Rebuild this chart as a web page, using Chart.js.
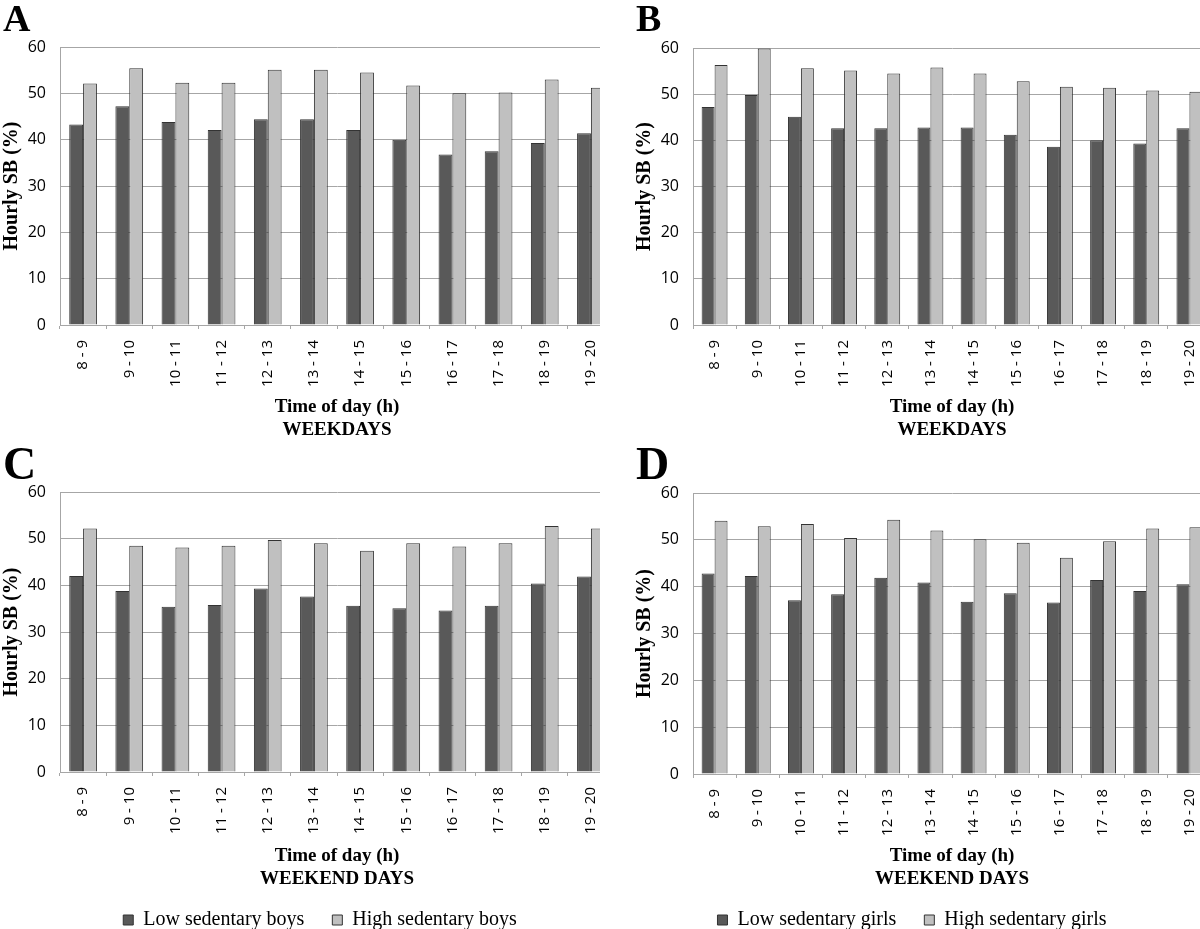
<!DOCTYPE html>
<html>
<head>
<meta charset="utf-8">
<script src="https://cdn.jsdelivr.net/npm/chart.js@4.4.1/dist/chart.umd.min.js"></script>
<style>
  body { margin:0; background:#fff; width:1200px; height:929px; overflow:hidden; position:relative; }
  .panel { position:absolute; overflow:hidden; width:600px; }
  .panel canvas { position:absolute; left:0; top:0; }
  .letter { position:absolute; font-family:"Liberation Serif", serif; font-weight:bold; line-height:1; color:#000; }
</style>
</head>
<body>
<div class="panel" style="left:0;top:0;height:440px"><canvas id="chartA" width="640" height="440"></canvas></div>
<div class="panel" style="left:600px;top:0;height:440px"><canvas id="chartB" width="640" height="440"></canvas></div>
<div class="panel" style="left:0;top:440px;height:489px"><canvas id="chartC" width="640" height="500"></canvas></div>
<div class="panel" style="left:600px;top:440px;height:489px"><canvas id="chartD" width="640" height="500"></canvas></div>
<div class="letter" style="left:3px;top:-1px;font-size:38px">A</div>
<div class="letter" style="left:636px;top:-1px;font-size:38px">B</div>
<div class="letter" style="left:3px;top:441px;font-size:46px">C</div>
<div class="letter" style="left:636px;top:441px;font-size:46px">D</div>
<script>
// categories and tick labels
var hours = ["8 - 9", "9 - 10", "10 - 11", "11 - 12", "12 - 13", "13 - 14",
  "14 - 15", "15 - 16", "16 - 17", "17 - 18", "18 - 19", "19 - 20"];
var yTicks = [0, 10, 20, 30, 40, 50, 60];

// hourly SB (%)
var lowBoysWeekdays   = [43.3, 47.2, 43.8, 42.1, 44.4, 44.4, 42.1, 40.0, 36.8, 37.5, 39.3, 41.4];
var highBoysWeekdays  = [52.1, 55.4, 52.3, 52.3, 55.1, 55.1, 54.5, 51.7, 50.0, 50.2, 53.0, 51.2];
var lowGirlsWeekdays  = [47.2, 49.8, 45.1, 42.6, 42.6, 42.8, 42.8, 41.2, 38.6, 40.0, 39.3, 42.6];
var highGirlsWeekdays = [56.3, 59.9, 55.6, 55.1, 54.5, 55.8, 54.5, 52.8, 51.6, 51.4, 50.8, 50.5];
var lowBoysWeekend    = [42.0, 38.8, 35.4, 35.8, 39.3, 37.6, 35.6, 35.1, 34.6, 35.6, 40.4, 41.9];
var highBoysWeekend   = [52.2, 48.5, 48.1, 48.5, 49.7, 49.0, 47.4, 49.0, 48.3, 49.0, 52.7, 52.2];
var lowGirlsWeekend   = [42.8, 42.3, 37.1, 38.4, 41.9, 40.9, 36.8, 38.6, 36.6, 41.4, 39.1, 40.5];
var highGirlsWeekend  = [54.1, 52.9, 53.4, 50.4, 54.3, 52.0, 50.1, 49.4, 46.2, 49.7, 52.4, 52.7];

var gridColor = "#a6a6a6";
var serifBold = { family: "'Liberation Serif', 'Times New Roman', serif", size: 19, weight: "bold" };

function generarChart(id, low, high, names, dayLabel, cfg) {
  var datos = {
    type: "bar",
    data: {
      labels: hours,
      datasets: [{
        label: names[0],
        data: low,
        backgroundColor: "#595959",
        borderColor: "#333333",
        borderWidth: 1
      }, {
        label: names[1],
        data: high,
        backgroundColor: "#c0c0c0",
        borderColor: "#333333",
        borderWidth: 1
      }]
    },
    options: {
      responsive: false,
      animation: false,
      datasets: { bar: { categoryPercentage: 0.6, barPercentage: 1.0 } },
      layout: { padding: { left: cfg.padLeft, right: cfg.padRight, top: cfg.padTop, bottom: cfg.padBottom } },
      plugins: {
        tooltip: { enabled: false },
        legend: {
          display: cfg.legend,
          position: "bottom",
          labels: {
            boxWidth: 10,
            boxHeight: 10,
            padding: 28,
            color: "#000",
            font: { family: "'Liberation Serif', 'Times New Roman', serif", size: 20 }
          }
        }
      },
      scales: {
        x: {
          grid: { offset: true, drawOnChartArea: false, drawTicks: true, tickLength: 4, color: gridColor },
          border: { color: gridColor },
          ticks: {
            autoSkip: false, maxRotation: 90, minRotation: 90, padding: 11,
            color: "#000", font: { family: "'Open Sans', sans-serif", size: 15 }
          },
          title: {
            display: true,
            text: ["Time of day (h)", dayLabel],
            color: "#000",
            font: serifBold,
            padding: { top: 0, bottom: cfg.titlePad }
          },
          afterFit: function (s) { s.height = cfg.xHeight; }
        },
        y: {
          min: yTicks[0],
          max: yTicks[yTicks.length - 1],
          grid: { color: gridColor, drawTicks: false },
          border: { color: gridColor },
          ticks: {
            stepSize: yTicks[1] - yTicks[0], padding: 14,
            color: "#000", font: { family: "'Open Sans', sans-serif", size: 16 }
          },
          title: {
            display: true,
            text: "Hourly SB (%)",
            color: "#000",
            font: { family: "'Liberation Serif', 'Times New Roman', serif", size: 20, weight: "bold" },
            padding: { top: cfg.yTitlePad, bottom: 0 }
          },
          afterFit: function (s) { s.width = cfg.yWidth; }
        }
      }
    }
  };
  var ctx = document.getElementById(id).getContext("2d");
  return new Chart(ctx, datos);
}

window.onload = function () {
  generarChart("chartA", lowBoysWeekdays, highBoysWeekdays,
    ["Low sedentary boys", "High sedentary boys"], "WEEKDAYS",
    { padLeft: 0, padRight: 26, padTop: 47, padBottom: 0, xHeight: 115, titlePad: -1,
      yWidth: 60, yTitlePad: 0, legend: false });
  generarChart("chartB", lowGirlsWeekdays, highGirlsWeekdays,
    ["Low sedentary girls", "High sedentary girls"], "WEEKDAYS",
    { padLeft: 33, padRight: 29, padTop: 48, padBottom: 0, xHeight: 115, titlePad: -1,
      yWidth: 60, yTitlePad: 0, legend: false });
  generarChart("chartC", lowBoysWeekend, highBoysWeekend,
    ["Low sedentary boys", "High sedentary boys"], "WEEKEND DAYS",
    { padLeft: 26, padRight: 26, padTop: 52, padBottom: 0, xHeight: 110, titlePad: -8,
      yWidth: 34, yTitlePad: -26, legend: true });
  generarChart("chartD", lowGirlsWeekend, highGirlsWeekend,
    ["Low sedentary girls", "High sedentary girls"], "WEEKEND DAYS",
    { padLeft: 13, padRight: 29, padTop: 53, padBottom: 0, xHeight: 108, titlePad: -8,
      yWidth: 80, yTitlePad: 20, legend: true });
};
</script>
</body>
</html>
